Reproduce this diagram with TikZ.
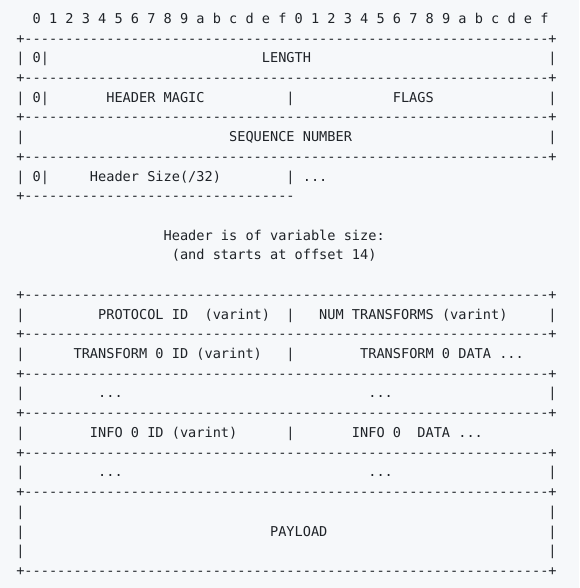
\documentclass[tikz,border=0pt]{standalone}
\usepackage{fontspec}
\setmonofont{DejaVu Sans Mono}
\definecolor{codebg}{HTML}{F6F8FA}
\definecolor{codefg}{HTML}{1F2328}
\newcommand{\dashrun}[1]{\foreach \k in {1,...,#1}{-}}

\begin{document}
\begin{tikzpicture}[x=0.75pt, y=-0.75pt]
    \tikzstyle{txt} = [inner sep=0pt, anchor=base west, text=codefg, font=\ttfamily\fontsize{10.2}{12}\selectfont]
    \def\cw{8.187}
    \def\lh{19.72}
    \useasboundingbox[fill=codebg] (0,0) rectangle (579,588);

    % bit numbers
    \node[txt] (bits) at ({16+\cw*2},23.3) {0 1 2 3 4 5 6 7 8 9 a b c d e f 0 1 2 3 4 5 6 7 8 9 a b c d e f};

    % separator rows
    \foreach \r in {1,3,5,7,14,16,18,20,22,24,28}
        \node[txt] (rule\r) at (16,{23.3+\lh*\r}) {+\dashrun{64}+};
    \node[txt] (rule9) at (16,{23.3+\lh*9}) {+\dashrun{33}};

    % side bars
    \foreach \r in {6,15,17,19,21,23,25,26,27}
        \node[txt] (left\r) at (16,{23.3+\lh*\r}) {|};
    \foreach \r in {2,4,6,15,19,23,25,26,27}
        \node[txt] (right\r) at ({16+\cw*65},{23.3+\lh*\r}) {|};
    \foreach \r in {4,15,17,21}
        \node[txt] (mid\r) at ({16+\cw*33},{23.3+\lh*\r}) {|};

    % fixed header
    \node[txt] (zero2) at (16,{23.3+\lh*2}) {| 0|};
    \node[txt] (length) at ({16+\cw*30},{23.3+\lh*2}) {LENGTH};
    \node[txt] (zero4) at (16,{23.3+\lh*4}) {| 0|};
    \node[txt] (magic) at ({16+\cw*11},{23.3+\lh*4}) {HEADER MAGIC};
    \node[txt] (flags) at ({16+\cw*46},{23.3+\lh*4}) {FLAGS};
    \node[txt] (seq) at ({16+\cw*26},{23.3+\lh*6}) {SEQUENCE NUMBER};
    \node[txt] (zero8) at (16,{23.3+\lh*8}) {| 0|};
    \node[txt] (hsize) at ({16+\cw*9},{23.3+\lh*8}) {Header Size(/32)};
    \node[txt] (more8) at ({16+\cw*33},{23.3+\lh*8}) {| ...};

    % note
    \node[txt] (note1) at ({16+\cw*18},{23.3+\lh*11}) {Header is of variable size:};
    \node[txt] (note2) at ({16+\cw*19},{23.3+\lh*12}) {(and starts at offset 14)};

    % variable header
    \node[txt] (proto) at ({16+\cw*10},{23.3+\lh*15}) {PROTOCOL ID~~(varint)};
    \node[txt] (numtr) at ({16+\cw*37},{23.3+\lh*15}) {NUM TRANSFORMS (varint)};
    \node[txt] (trid) at ({16+\cw*7},{23.3+\lh*17}) {TRANSFORM 0 ID (varint)};
    \node[txt] (trdata) at ({16+\cw*42},{23.3+\lh*17}) {TRANSFORM 0 DATA ...};
    \node[txt] (dotsa) at ({16+\cw*10},{23.3+\lh*19}) {...};
    \node[txt] (dotsb) at ({16+\cw*43},{23.3+\lh*19}) {...};
    \node[txt] (infoid) at ({16+\cw*9},{23.3+\lh*21}) {INFO 0 ID (varint)};
    \node[txt] (infodata) at ({16+\cw*41},{23.3+\lh*21}) {INFO 0~~DATA ...};
    \node[txt] (dotsc) at ({16+\cw*10},{23.3+\lh*23}) {...};
    \node[txt] (dotsd) at ({16+\cw*43},{23.3+\lh*23}) {...};

    % payload
    \node[txt] (payload) at ({16+\cw*31},{23.3+\lh*26}) {PAYLOAD};
\end{tikzpicture}
\end{document}
